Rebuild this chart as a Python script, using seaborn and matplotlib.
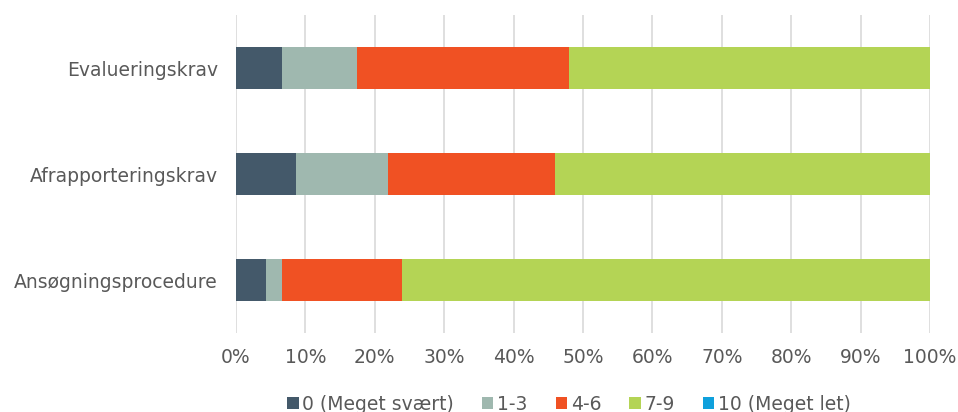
import matplotlib
matplotlib.use("Agg")
import matplotlib.pyplot as plt
import seaborn as sns
import pandas as pd
import numpy as np
from matplotlib.patches import Patch

categories = ["Evalueringskrav", "Afrapporteringskrav", "Ansøgningsprocedure"]
series_names = ["0 (Meget svært)", "1-3", "4-6", "7-9", "10 (Meget let)"]
v_0 = [6.6, 8.7, 4.3]
v_1_3 = [10.9, 13.2, 2.3]
v_4_6 = [30.5, 24.0, 17.3]
v_7_9 = [52.0, 54.1, 76.1]
v_10 = [0.0, 0.0, 0.0]
colors = ["#44596A", "#9FB8AF", "#F05123", "#B4D455", "#0FA0DC"]

sns.set_style("white")
plt.rcParams["font.family"] = ["DejaVu Sans"]
text_color = "#595959"
fs = 13.5

df = pd.DataFrame({"cat": categories})
series = [v_0, v_1_3, v_4_6, v_7_9, v_10]
cum = np.cumsum(np.array(series), axis=0)

fig = plt.figure(figsize=(9.58, 4.12), dpi=100)
ax = fig.add_axes([236 / 958, 1 - 333 / 412, (930 - 236) / 958, (333 - 15) / 412])

# stacked look: draw cumulative totals from the last series to the first
for i in range(len(series) - 1, -1, -1):
    df["val"] = cum[i]
    sns.barplot(data=df, x="val", y="cat", orient="h", color=colors[i],
                width=0.4, saturation=1, ax=ax, linewidth=0, zorder=3)

ax.set_xlim(0, 100)
ax.set_xticks(range(0, 101, 10))
ax.set_xticklabels([f"{t}%" for t in range(0, 101, 10)])
ax.set_xlabel("")
ax.set_ylabel("")
ax.set_ylim(2.5, -0.5)
ax.grid(axis="x", color="#D9D9D9", linewidth=1.2, zorder=0)
ax.grid(axis="y", visible=False)
for s in ax.spines.values():
    s.set_visible(False)
ax.tick_params(axis="both", length=0, labelsize=fs, labelcolor=text_color)
ax.tick_params(axis="x", pad=11)
ax.tick_params(axis="y", pad=13)

handles = [Patch(facecolor=c, edgecolor="none") for c in colors]
fig.legend(handles, series_names, loc="lower center", bbox_to_anchor=(0.594, -0.045),
           ncol=5, frameon=False, fontsize=fs, labelcolor=text_color,
           handlelength=0.6, handleheight=0.6, handletextpad=0.2, columnspacing=1.5)

fig.savefig("out.png", dpi=100)
